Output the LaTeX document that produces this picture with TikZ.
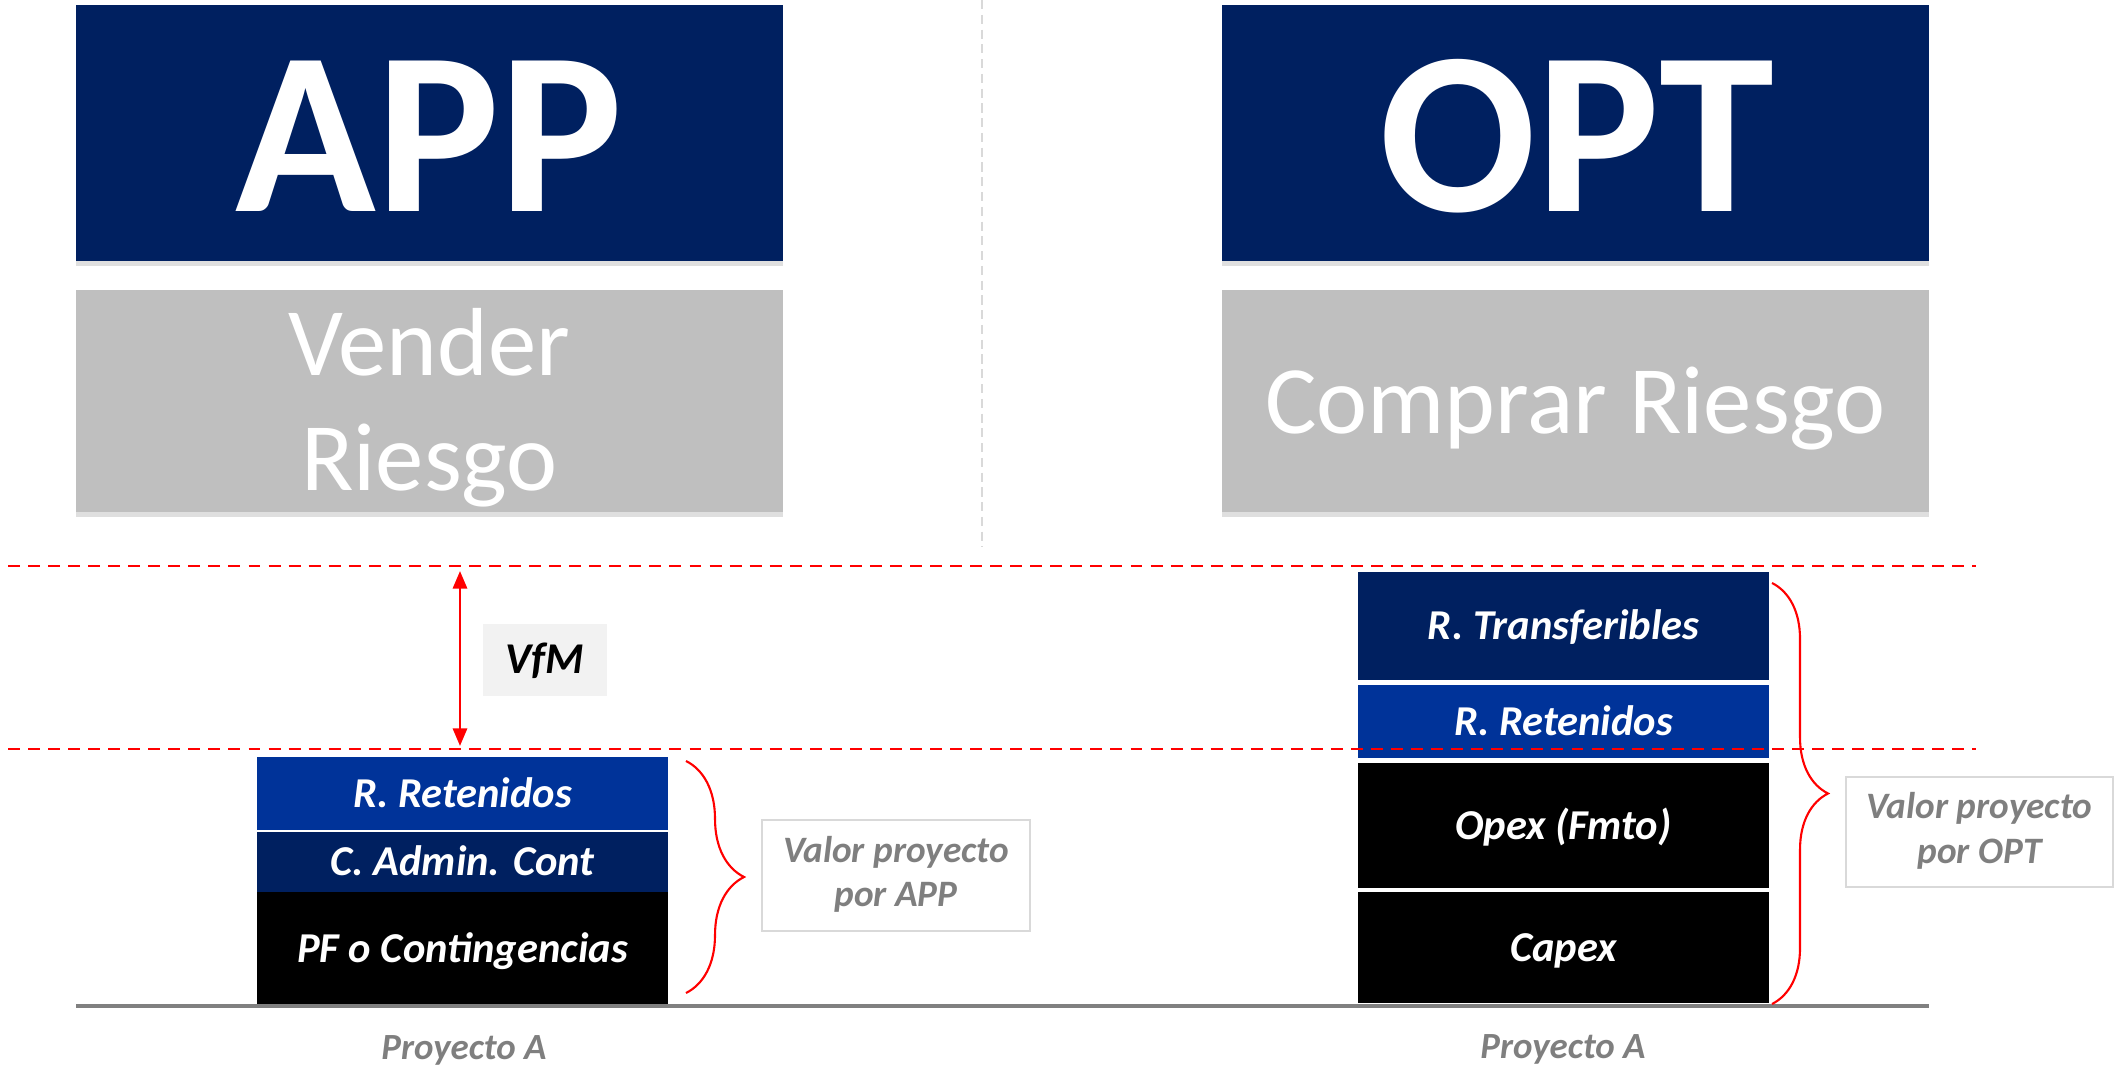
\documentclass[tikz,border=0pt]{standalone}
\usepackage{fontspec}
\setmainfont{Carlito}
\usetikzlibrary{decorations.pathreplacing,arrows.meta,shadows}
\definecolor{navy}{HTML}{002060}
\definecolor{rblue}{HTML}{003399}
\definecolor{boxgray}{HTML}{BFBFBF}
\definecolor{txtgray}{HTML}{7F7F7F}
\definecolor{lightframe}{HTML}{D9D9D9}
\definecolor{vfmfill}{HTML}{F2F2F2}
\definecolor{groundgray}{HTML}{808080}
\definecolor{sepgray}{HTML}{D9D9D9}
\tikzset{
  headbox/.style={fill=navy, minimum width=7.07cm, minimum height=2.56cm, inner sep=0pt,
    drop shadow={shadow xshift=0cm, shadow yshift=-0.05cm, opacity=0.25}},
  subbox/.style={fill=boxgray, minimum width=7.07cm, minimum height=2.22cm, inner sep=0pt,
    drop shadow={shadow xshift=0cm, shadow yshift=-0.05cm, opacity=0.25}},
  bigtxt/.style={text=white, font=\fontsize{66}{70}\selectfont\bfseries, anchor=base, inner sep=0pt},
  midtxt/.style={text=white, font=\fontsize{27.5}{33}\selectfont, anchor=base, inner sep=0pt},
  layer/.style={minimum width=4.11cm, inner sep=0pt, text=white,
    font=\fontsize{12.1}{14}\selectfont\bfseries\itshape, text height=7.7pt, text depth=0pt},
  valbox/.style={draw=lightframe, line width=0.6pt, text=txtgray, align=center, inner sep=0pt,
    font=\fontsize{10.6}{12.6}\selectfont\bfseries\itshape},
  projtxt/.style={text=txtgray, font=\fontsize{10.5}{12}\selectfont\bfseries\itshape, anchor=base, inner sep=0pt},
  reddash/.style={draw=red, line width=0.6pt, dash pattern=on 3.4pt off 2.3pt},
  bracestyle/.style={draw=red, line width=0.6pt, decorate},
}
\begin{document}
\begin{tikzpicture}[x=0.01cm, y=-0.01cm]
\useasboundingbox (0,0) rectangle (2118,1067);

% separator
\coordinate (septop) at (982,0);
\coordinate (sepbot) at (982,547);
\draw[sepgray, line width=0.5pt, dash pattern=on 2.6pt off 1.6pt] (septop) -- (sepbot);

% header boxes
\node[headbox] (app) at (429.5,133) {};
\node[subbox] (vender) at (429.5,401) {};
\node[headbox] (opt) at (1575.5,133) {};
\node[subbox] (comprar) at (1575.5,401) {};
\node[bigtxt] (apptxt) at (429.5,212) {APP};
\node[bigtxt] (opttxt) at (1577,212) {OPT};
\node[midtxt] (vtxt1) at (429.5,376) {Vender};
\node[midtxt] (vtxt2) at (429.5,491) {Riesgo};
\node[midtxt] (ctxt) at (1575.5,434) {Comprar Riesgo};

% left stack
\node[layer, fill=rblue, minimum height=0.73cm] (lret) at (462.5,793.5) {R. Retenidos};
\node[layer, fill=navy, minimum height=0.60cm] (ladm) at (462.5,862) {C. Admin. Cont};
\node[layer, fill=black, minimum height=1.14cm] (lpf) at (462.5,949) {PF o Contingencias};

% right stack
\node[layer, fill=navy, minimum height=1.08cm] (rtrans) at (1563.5,626) {R. Transferibles};
\node[layer, fill=rblue, minimum height=0.73cm] (rret) at (1563.5,721.5) {R. Retenidos};
\node[layer, fill=black, minimum height=1.25cm] (ropex) at (1563.5,825.5) {Opex (Fmto)};
\node[layer, fill=black, minimum height=1.11cm] (rcapex) at (1563.5,947.5) {Capex};

% red dashed reference lines
\coordinate (l1a) at (8,566);
\coordinate (l1b) at (1976,566);
\coordinate (l2a) at (8,749);
\coordinate (l2b) at (1976,749);
\draw[reddash] (l1a) -- (l1b);
\draw[reddash] (l2a) -- (l2b);

% VfM
\coordinate (vfmtop) at (460,571);
\coordinate (vfmbot) at (460,746);
\draw[red, line width=0.8pt, {Triangle[length=5pt,width=4pt]}-{Triangle[length=5pt,width=4pt]}] (vfmtop) -- (vfmbot);
\node[fill=vfmfill, minimum width=1.24cm, minimum height=0.72cm, inner sep=0pt,
  font=\fontsize{12.5}{14}\selectfont\bfseries\itshape, text height=7.9pt, text depth=0pt] (vfm) at (545,660) {VfM};

% ground line
\coordinate (g1) at (76,1006);
\coordinate (g2) at (1929,1006);
\draw[groundgray, line width=1.1pt] (g1) -- (g2);

% braces
\coordinate (b1t) at (686,761);
\coordinate (b1b) at (686,993);
\draw[bracestyle, decoration={brace, amplitude=0.58cm}] (b1t) -- (b1b);
\coordinate (b2t) at (1772,583);
\coordinate (b2b) at (1772,1004);
\draw[bracestyle, decoration={brace, amplitude=0.56cm}] (b2t) -- (b2b);

% value boxes
\node[valbox, minimum width=2.68cm, minimum height=1.11cm] (vapp) at (896,875.5) {\raisebox{-0.175cm}{\begin{tabular}{@{}c@{}}Valor proyecto\\por APP\end{tabular}}};
\node[valbox, minimum width=2.67cm, minimum height=1.10cm] (vopt) at (1979.5,832) {\raisebox{-0.175cm}{\begin{tabular}{@{}c@{}}Valor proyecto\\por OPT\end{tabular}}};

% project labels
\node[projtxt] (pa1) at (464,1059) {Proyecto A};
\node[projtxt] (pa2) at (1563,1058) {Proyecto A};
\end{tikzpicture}
\end{document}
